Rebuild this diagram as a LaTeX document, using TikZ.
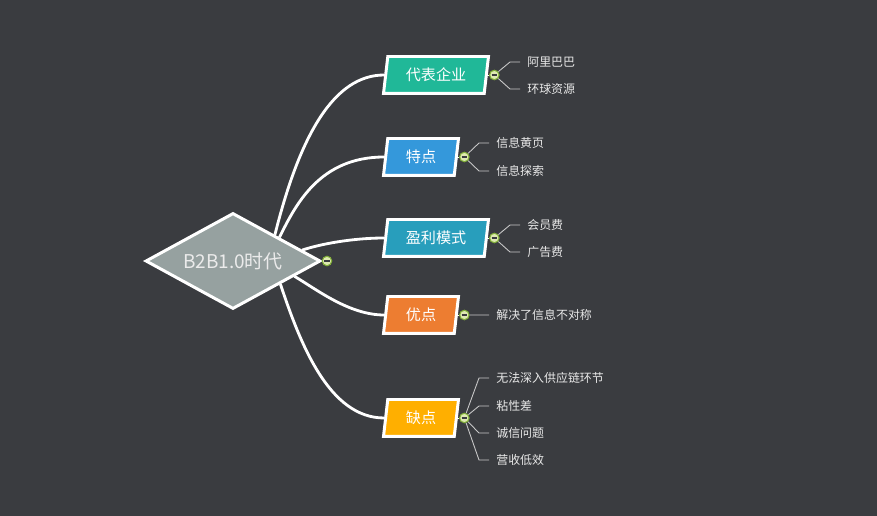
\documentclass[tikz,border=0pt]{standalone}
\usepackage{fontspec}
\setmainfont{Noto Sans CJK SC}
\usepackage{tikz}
\usetikzlibrary{shapes.geometric, positioning}
\definecolor{canvas}{RGB}{58, 60, 64}
\definecolor{rootgray}{RGB}{150, 161, 160}
\definecolor{topicgreen}{RGB}{32, 184, 152}
\definecolor{topicblue}{RGB}{52, 152, 219}
\definecolor{topicteal}{RGB}{40, 158, 188}
\definecolor{topicorange}{RGB}{237, 125, 49}
\definecolor{topicamber}{RGB}{255, 175, 0}
\definecolor{foldfill}{RGB}{222, 234, 176}
\definecolor{foldline}{RGB}{130, 176, 58}
\definecolor{leafgray}{RGB}{232, 232, 232}
\definecolor{twiggray}{RGB}{200, 200, 200}

\begin{document}
\begin{tikzpicture}[x=0.02cm, y=-0.02cm,
  topic/.style={trapezium, trapezium left angle=73, trapezium right angle=107,
    trapezium stretches body, draw=white, line width=1.7pt, text=white,
    font=\fontsize{8.6}{10}\selectfont, minimum height=0.74cm, inner sep=0pt},
  wide/.style={minimum width=2.1cm},
  narrow/.style={minimum width=1.5cm},
  leaf/.style={anchor=west, text=leafgray, font=\fontsize{6.8}{8}\selectfont, inner sep=0pt},
  fold/.style={circle, draw=foldline, fill=foldfill, line width=0.6pt,
    minimum size=0.19cm, inner sep=0pt,
    path picture={\draw[line width=0.7pt, canvas]
      ([xshift=-0.055cm]path picture bounding box.center) --
      ([xshift=0.055cm]path picture bounding box.center);}},
  limb/.style={white, line width=1.6pt},
  twig/.style={twiggray, line width=0.5pt}]

  \fill[canvas] (0, 0) rectangle (877, 516);

  % Root
  \node[diamond, aspect=1.8, draw=white, fill=rootgray, line width=1.7pt,
    minimum width=3.5cm, minimum height=1.92cm, inner sep=0pt, text=white!92!black,
    font=\fontsize{10.8}{12}\selectfont] (root) at (233, 261) {B2B1.0时代};
  \node[fold] (f0) at (327, 261) {};

  % Branches
  \node[topic, wide, fill=topicgreen] (b1) at (436, 75) {代表企业};
  \node[topic, narrow, fill=topicblue] (b2) at (421, 157) {特点};
  \node[topic, wide, fill=topicteal] (b3) at (436, 238) {盈利模式};
  \node[topic, narrow, fill=topicorange] (b4) at (421, 315) {优点};
  \node[topic, narrow, fill=topicamber] (b5) at (421, 418) {缺点};

  \draw[limb] (root.32) .. controls +(25, -100) and +(-50, 0) .. (b1.west);
  \draw[limb] (root.27) .. controls +(16, -32) and +(-65, 0) .. (b2.west);
  \draw[limb] (root.9) .. controls +(25, -8) and +(-25, 0) .. (b3.west);
  \draw[limb] (root.-14) .. controls +(22, 13) and +(-35, 0) .. (b4.west);
  \draw[limb] (root.-26) .. controls +(20, 60) and +(-55, 0) .. (b5.west);

  % Folds
  \foreach \b/\f in {b1/f1, b2/f2, b3/f3, b4/f4, b5/f5} {
    \node[fold, right=0.13cm of \b.east, anchor=center] (\f) {};
    \draw[twig, white] (\b.east) -- (\f);
  }

  % Leaves of branch 1
  \foreach \y/\txt in {62/阿里巴巴, 89/环球资源} {
    \node[leaf] (l1-\y) at (527, \y) {\txt};
    \draw[twig] (f1) -- ([xshift=-0.34cm]l1-\y.west) -- ([xshift=-0.14cm]l1-\y.west);
  }

  % Leaves of branch 2
  \foreach \y/\txt in {143/信息黄页, 171/信息探索} {
    \node[leaf] (l2-\y) at (496, \y) {\txt};
    \draw[twig] (f2) -- ([xshift=-0.34cm]l2-\y.west) -- ([xshift=-0.14cm]l2-\y.west);
  }

  % Leaves of branch 3
  \foreach \y/\txt in {225/会员费, 252/广告费} {
    \node[leaf] (l3-\y) at (527, \y) {\txt};
    \draw[twig] (f3) -- ([xshift=-0.34cm]l3-\y.west) -- ([xshift=-0.14cm]l3-\y.west);
  }

  % Leaf of branch 4
  \node[leaf] (l4) at (496, 315) {解决了信息不对称};
  \draw[twig] (f4) -- ([xshift=-0.14cm]l4.west);

  % Leaves of branch 5
  \foreach \y/\txt in {378/无法深入供应链环节, 406/粘性差, 433/诚信问题, 460/营收低效} {
    \node[leaf] (l5-\y) at (496, \y) {\txt};
    \draw[twig] (f5) -- ([xshift=-0.34cm]l5-\y.west) -- ([xshift=-0.14cm]l5-\y.west);
  }

\end{tikzpicture}
\end{document}
